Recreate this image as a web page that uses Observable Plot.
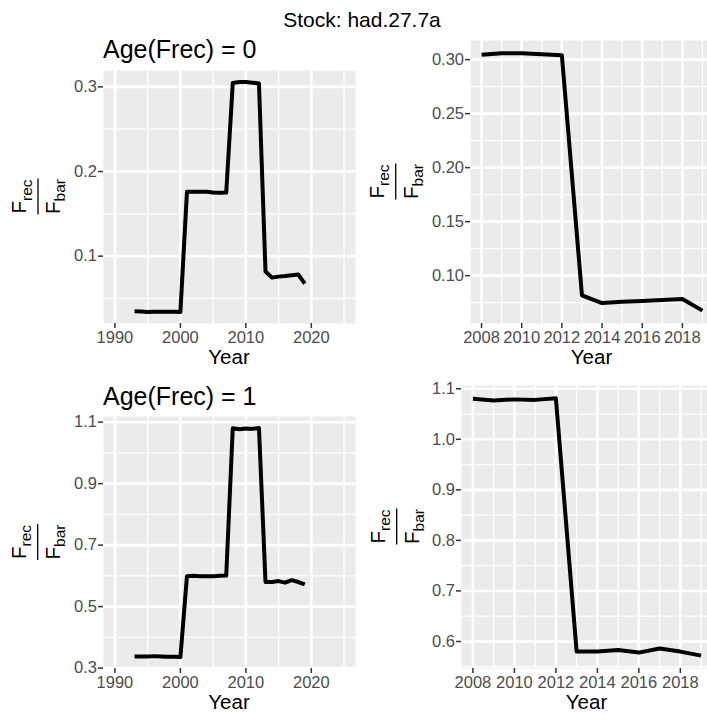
<!DOCTYPE html>
<html>
<head>
<meta charset="utf-8">
<script src="https://cdn.jsdelivr.net/npm/d3@7"></script>
<script src="https://cdn.jsdelivr.net/npm/@observablehq/plot@0.6"></script>
<style>
html, body { margin: 0; padding: 0; background: #fff; }
#chart { position: relative; width: 707px; height: 714px; overflow: hidden; background: #fff;
  font-family: "Liberation Sans", Arial, sans-serif; }
#chart svg.panel { position: absolute; max-width: none; }
#chart svg.panel text { font-size: 16.5px; }
#overlay { position: absolute; left: 0; top: 0; pointer-events: none; }
</style>
</head>
<body>
<div id="chart"></div>
<script>
// ---------- data ----------
const mainTitle = "Stock: had.27.7a";
const panelTitles = ["Age(Frec) = 0", "Age(Frec) = 1"];
const xTitle = "Year";

const years = [1993, 1994, 1995, 1996, 1997, 1998, 1999, 2000, 2001, 2002, 2003, 2004, 2005, 2006,
               2007, 2008, 2009, 2010, 2011, 2012, 2013, 2014, 2015, 2016, 2017, 2018, 2019];
const frecAge0 = [0.0350, 0.0345, 0.0340, 0.0342, 0.0343, 0.0344, 0.0342, 0.0341, 0.176, 0.176,
                  0.1762, 0.1762, 0.1752, 0.175, 0.1752, 0.3046, 0.3058, 0.3058, 0.3050, 0.3040,
                  0.0818, 0.0746, 0.0758, 0.0765, 0.0775, 0.0783, 0.0676];
const frecAge1 = [0.338, 0.338, 0.338, 0.339, 0.338, 0.337, 0.337, 0.336, 0.599, 0.600,
                  0.599, 0.599, 0.599, 0.600, 0.601, 1.080, 1.077, 1.079, 1.078, 1.081,
                  0.580, 0.580, 0.583, 0.578, 0.586, 0.580, 0.572];
const zoomStartYear = 2008;
const xLimitsFull = [1990, 2025];

const xTicksFull = [1990, 2000, 2010, 2020];
const xMinorFull = [1995, 2005, 2015, 2025];
const xTicksZoom = [2008, 2010, 2012, 2014, 2016, 2018];
const xMinorZoom = [2009, 2011, 2013, 2015, 2017, 2019];

const yTicksAge0Full = [0.1, 0.2, 0.3];
const yMinorAge0Full = [0.05, 0.15, 0.25];
const yTicksAge0Zoom = [0.10, 0.15, 0.20, 0.25, 0.30];
const yMinorAge0Zoom = [0.075, 0.125, 0.175, 0.225, 0.275];
const yTicksAge1Full = [0.3, 0.5, 0.7, 0.9, 1.1];
const yMinorAge1Full = [0.4, 0.6, 0.8, 1.0];
const yTicksAge1Zoom = [0.6, 0.7, 0.8, 0.9, 1.0, 1.1];
const yMinorAge1Zoom = [0.55, 0.65, 0.75, 0.85, 0.95, 1.05];

// ---------- helpers ----------
const FONT = '"Liberation Sans", Arial, sans-serif';
const expand = ([a, b]) => [a - 0.05 * (b - a), b + 0.05 * (b - a)];
const rowsAge0 = years.map((year, i) => ({year, v: frecAge0[i]}));
const rowsAge1 = years.map((year, i) => ({year, v: frecAge1[i]}));

const chart = document.getElementById("chart");

function panel({rows, xDomain, xTicks, xMinor, yTicks, yMinor, yFmt, frame: [x0, y0, x1, y1]}) {
  const ml = 50, mt = 4, mr = 4, mb = 30;
  const yDomain = expand(d3.extent(rows, d => d.v));
  const svg = Plot.plot({
    width: x1 - x0 + ml + mr,
    height: y1 - y0 + mt + mb,
    marginLeft: ml, marginTop: mt, marginRight: mr, marginBottom: mb,
    x: {domain: xDomain},
    y: {domain: yDomain},
    style: {background: "transparent", fontFamily: FONT, fontSize: "16.5px", overflow: "visible", maxWidth: "none"},
    marks: [
      Plot.frame({fill: "#EBEBEB", stroke: "none"}),
      Plot.gridY(yMinor, {stroke: "#fff", strokeOpacity: 1, strokeWidth: 1.3}),
      Plot.gridX(xMinor, {stroke: "#fff", strokeOpacity: 1, strokeWidth: 1.3}),
      Plot.gridY(yTicks, {stroke: "#fff", strokeOpacity: 1, strokeWidth: 2.6}),
      Plot.gridX(xTicks, {stroke: "#fff", strokeOpacity: 1, strokeWidth: 2.6}),
      Plot.line(rows, {x: "year", y: "v", stroke: "#000", strokeWidth: 4, strokeLinejoin: "round", strokeLinecap: "butt"}),
      Plot.axisX(xTicks, {tickSize: 5, tickPadding: 3, stroke: "#333", strokeWidth: 1.5, fill: "#4D4D4D",
                          fontSize: 16.5, label: null, tickFormat: d => String(d)}),
      Plot.axisY(yTicks, {tickSize: 5, tickPadding: 1.5, stroke: "#333", strokeWidth: 1.5, fill: "#4D4D4D",
                          fontSize: 16.5, label: null, tickFormat: yFmt})
    ]
  });
  svg.classList.add("panel");
  svg.style.left = (x0 - ml) + "px";
  svg.style.top = (y0 - mt) + "px";
  chart.appendChild(svg);
}

const zoom0 = rowsAge0.filter(d => d.year >= zoomStartYear);
const zoom1 = rowsAge1.filter(d => d.year >= zoomStartYear);
const zoomX = expand(d3.extent(zoom0, d => d.year));

panel({rows: rowsAge0, xDomain: expand(xLimitsFull), xTicks: xTicksFull, xMinor: xMinorFull,
       yTicks: yTicksAge0Full, yMinor: yMinorAge0Full, yFmt: d3.format(".1f"), frame: [103, 70, 355, 323]});
panel({rows: zoom0, xDomain: zoomX, xTicks: xTicksZoom, xMinor: xMinorZoom,
       yTicks: yTicksAge0Zoom, yMinor: yMinorAge0Zoom, yFmt: d3.format(".2f"), frame: [470, 40, 713, 323]});
panel({rows: rowsAge1, xDomain: expand(xLimitsFull), xTicks: xTicksFull, xMinor: xMinorFull,
       yTicks: yTicksAge1Full, yMinor: yMinorAge1Full, yFmt: d3.format(".1f"), frame: [103, 416, 355, 668]});
panel({rows: zoom1, xDomain: zoomX, xTicks: xTicksZoom, xMinor: xMinorZoom,
       yTicks: yTicksAge1Zoom, yMinor: yMinorAge1Zoom, yFmt: d3.format(".1f"), frame: [461, 385, 712, 668]});

// ---------- overlay text ----------
const ov = d3.select(chart).append("svg").attr("id", "overlay")
  .attr("width", 707).attr("height", 714)
  .style("font-family", FONT);

ov.append("text").attr("x", 362).attr("y", 27).attr("text-anchor", "middle")
  .attr("font-size", 21).attr("fill", "#000").text(mainTitle);
ov.append("text").attr("x", 103).attr("y", 58).attr("font-size", 25).attr("fill", "#000").text(panelTitles[0]);
ov.append("text").attr("x", 103).attr("y", 404.5).attr("font-size", 25).attr("fill", "#000").text(panelTitles[1]);

[[229, 364], [591.5, 364], [229, 709], [586.5, 709]].forEach(([x, y]) => {
  ov.append("text").attr("x", x).attr("y", y).attr("text-anchor", "middle")
    .attr("font-size", 20.5).attr("fill", "#000").text(xTitle);
});

function frac(cx, cy) {
  const g = ov.append("g").attr("transform", `translate(${cx},${cy}) rotate(-90)`);
  const num = g.append("text").attr("x", 0).attr("y", -12).attr("text-anchor", "middle")
    .attr("font-size", 20.5).attr("fill", "#000");
  num.append("tspan").text("F");
  num.append("tspan").attr("font-size", 15.5).attr("dy", 5.5).text("rec");
  g.append("line").attr("x1", -18).attr("x2", 18).attr("y1", 0).attr("y2", 0)
    .attr("stroke", "#000").attr("stroke-width", 1.3);
  const den = g.append("text").attr("x", 0).attr("y", 22).attr("text-anchor", "middle")
    .attr("font-size", 20.5).attr("fill", "#000");
  den.append("tspan").text("F");
  den.append("tspan").attr("font-size", 15.5).attr("dy", 5).text("bar");
}
frac(38, 196.5);
frac(395.7, 181.5);
frac(37.7, 542);
frac(396.7, 526.5);
</script>
</body>
</html>
